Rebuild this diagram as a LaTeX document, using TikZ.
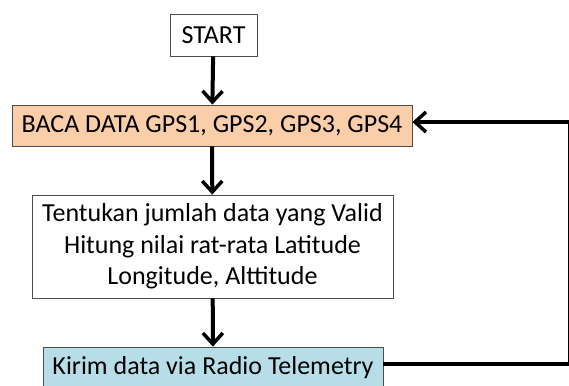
\documentclass[tikz,border=0pt]{standalone}
\usepackage{fontspec}
\setmainfont{Carlito}
\usetikzlibrary{arrows.meta}
\definecolor{peach}{RGB}{251,206,170}
\definecolor{lightsky}{RGB}{183,222,232}
\begin{document}
\begin{tikzpicture}[x=1pt,y=-1pt,
    box/.style={draw=black!70,line width=0.8pt,inner sep=0pt,align=center,
        font=\fontsize{26}{31.5}\selectfont},
    flow/.style={line width=4pt,-{Straight Barb[length=11pt,width=20pt,line width=3.5pt]}}]
        \useasboundingbox (0,0) rectangle (569,385);
        \node[box,minimum width=87pt,minimum height=42pt] (start) at (213.5,35) {START};
        \node[box,fill=peach,minimum width=400pt,minimum height=41pt] (baca) at (212,125.5) {BACA DATA GPS1, GPS2, GPS3, GPS4};
        \node[box,minimum width=361pt,minimum height=103pt] (hitung) at (212.5,246.5)
            {Tentukan jumlah data yang Valid\\Hitung nilai rat-rata Latitude\\Longitude, Alttitude};
        \node[box,fill=lightsky,minimum width=340pt,minimum height=42pt] (kirim) at (213,368) {Kirim data via Radio Telemetry};
        \draw[flow] (start) -- (baca);
        \draw[flow] (baca) -- (hitung);
        \draw[flow] (hitung) -- (kirim);
        % balik lagi ke pembacaan GPS
        \coordinate (kanan) at (570.2,0);
        \draw[flow] (kirim.east |- 0,364) -- (kanan |- 0,364) -- (kanan |- 0,122) -- (baca.east |- 0,122);
    \end{tikzpicture}
\end{document}
